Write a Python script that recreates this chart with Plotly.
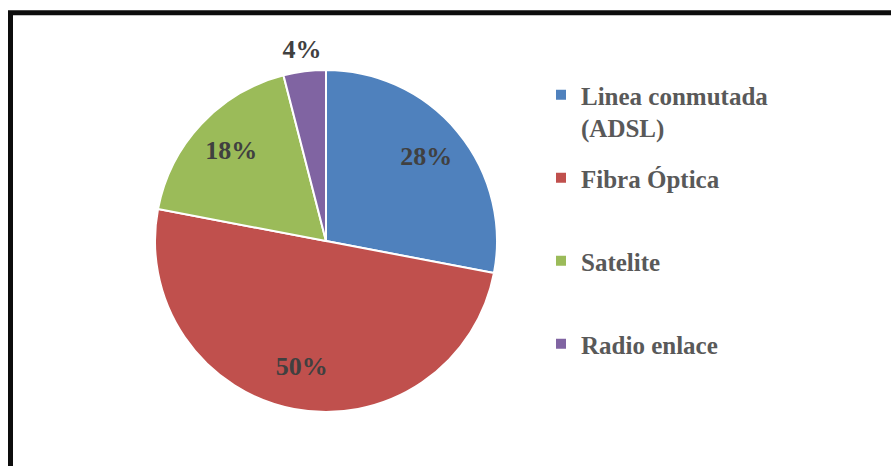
import plotly.graph_objects as go

# Share of connection types (percent)
categories = ["Linea conmutada<br>(ADSL)", "Fibra Óptica", "Satelite", "Radio enlace"]
values = [28, 50, 18, 4]
colors = ["#4F81BD", "#C0504D", "#9BBB59", "#8064A2"]

# label placement (fraction of the pie radius) – inside for big slices, outside for the small one
LABEL_R_INSIDE = 0.76
LABEL_R_OUTSIDE = 1.12
RADIAL_MAX = 1.2  # radial room beyond the pie edge so outside labels fit

total = sum(values)
spans = [v / total * 360 for v in values]
starts = [sum(spans[:i]) for i in range(len(spans))]
mids = [s + w / 2 for s, w in zip(starts, spans)]
pct_text = [f"{round(v / total * 100)}%" for v in values]
label_r = [LABEL_R_OUTSIDE if w < 30 else LABEL_R_INSIDE for w in spans]

fig = go.Figure()

# pie wedges drawn as full-radius polar bars, one trace per category for the legend
for name, w, m, c in zip(categories, spans, mids, colors):
    legend_name = name if "<br>" in name else name + "<br>\u00a0"
    fig.add_trace(go.Barpolar(
        r=[1], theta=[m], width=[w], base=0,
        name=legend_name, legendgroup=name,
        marker=dict(color=c, line=dict(color="white", width=2)),
        hoverinfo="skip",
    ))

# percentage labels
fig.add_trace(go.Scatterpolar(
    r=label_r, theta=mids, text=pct_text, mode="text",
    textfont=dict(family="Liberation Serif", size=26, color="#404040", weight="bold"),
    showlegend=False, cliponaxis=False, hoverinfo="skip",
))

W, H = 891, 466
cx, cy, R = 326, 241, 171
RP = R * RADIAL_MAX  # pixel radius of the whole polar area

fig.update_layout(
    width=W, height=H,
    margin=dict(l=0, r=0, t=0, b=0),
    paper_bgcolor="white",
    polar=dict(
        domain=dict(x=[(cx - RP) / W, (cx + RP) / W], y=[(H - cy - RP) / H, (H - cy + RP) / H]),
        bgcolor="rgba(0,0,0,0)",
        hole=0,
        radialaxis=dict(range=[0, RADIAL_MAX], visible=False),
        angularaxis=dict(rotation=90, direction="clockwise", visible=False),
    ),
    legend=dict(
        x=541 / W, xanchor="left",
        y=1 - 72 / H, yanchor="top",
        valign="top",
        traceorder="grouped",
        tracegroupgap=15,
        font=dict(family="Liberation Serif", size=25, color="#595959", weight="bold"),
        bgcolor="rgba(0,0,0,0)",
    ),
    shapes=[dict(
        type="rect", xref="paper", yref="paper",
        x0=10.5 / W, y0=-0.05, x1=1.05, y1=1 - 12.75 / H,
        line=dict(color="#0d0d0d", width=5),
    )],
)

fig.write_html("out.html")
